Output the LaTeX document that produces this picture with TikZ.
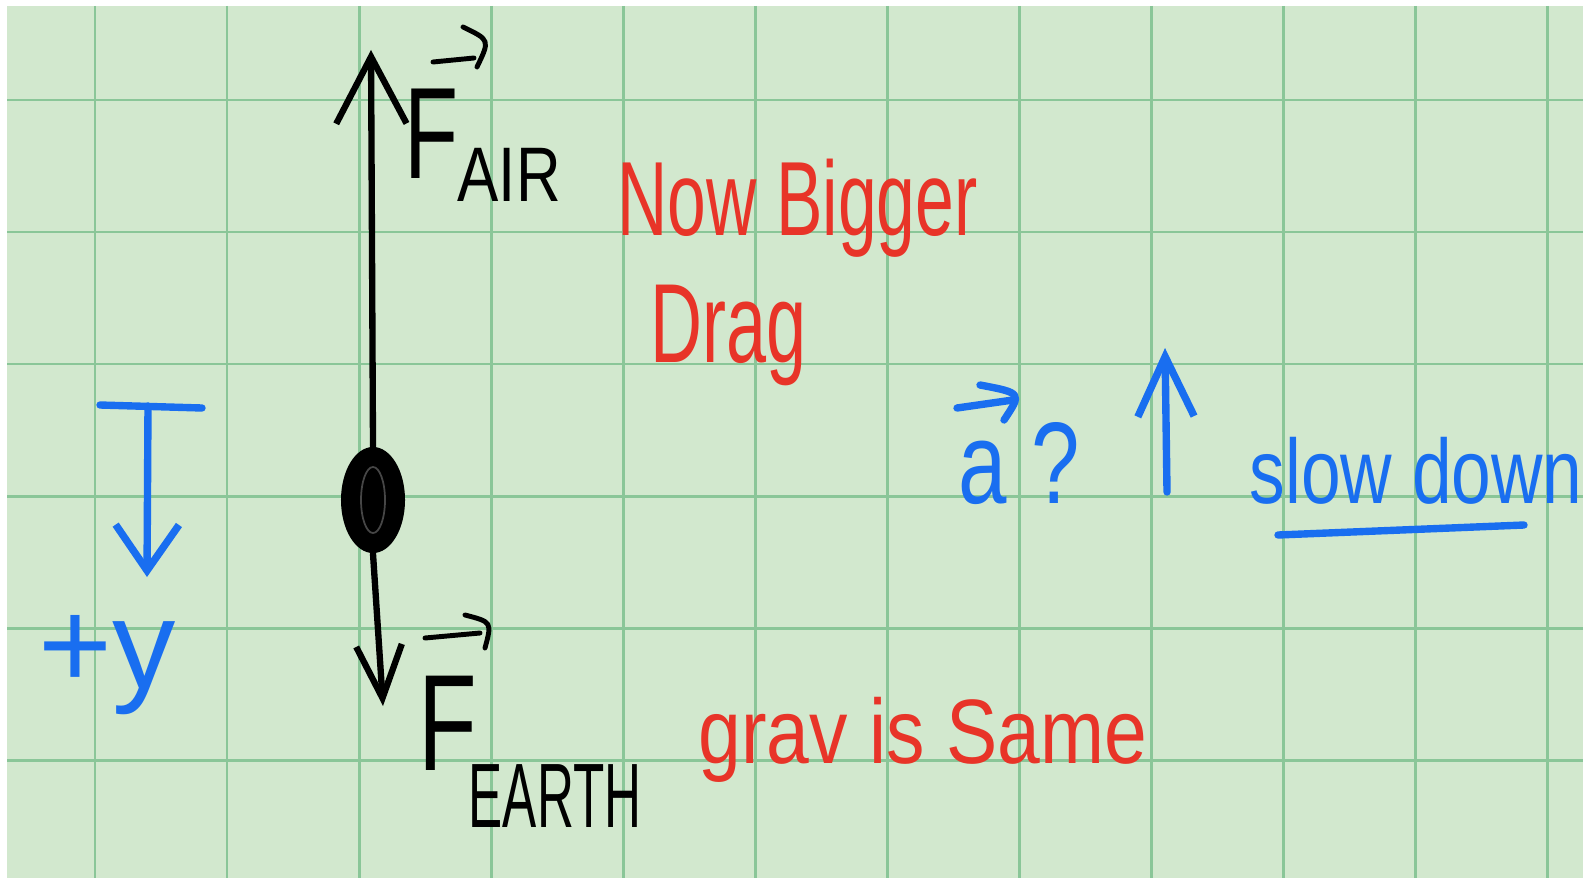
\documentclass[tikz,border=0pt]{standalone}
\usepackage{fontspec}
\setmainfont{Liberation Sans}
\usepackage{graphicx}
\usetikzlibrary{shapes.geometric, arrows.meta, calc}

\definecolor{paper}{RGB}{210,232,206}
\definecolor{gridgreen}{RGB}{138,198,152}
\definecolor{inkred}{RGB}{232,52,40}
\definecolor{inkblue}{RGB}{25,110,240}

\newcommand{\handfont}[1]{\fontsize{#1pt}{#1pt}\selectfont}
\newcommand{\narrow}[2]{\scalebox{#1}[1]{#2}}

\begin{document}
\begin{tikzpicture}[
    x=0.01cm, y=-0.01cm,
    gridline/.style={draw=gridgreen, line width=0.85pt},
    blackstroke/.style={draw=black, line width=1.8pt, line cap=round, line join=round},
    bluestroke/.style={draw=inkblue, line width=2.1pt, line cap=round, line join=round},
    vecmark/.style={draw=black, line width=1.4pt, line cap=round},
    hand/.style={inner sep=0pt, anchor=base west},
    blacktext/.style={hand, text=black},
    redtext/.style={hand, text=inkred},
    bluetext/.style={hand, text=inkblue},
    ball/.style={ellipse, fill=black, minimum width=0.64cm,
                 minimum height=1.06cm, inner sep=0pt},
]
    % Paper
    \useasboundingbox (0,0) rectangle (1583,882);
    \fill[white] (0,0) rectangle (1583,882);
    \fill[paper] (7,6) rectangle (1583,878);
    \foreach \gx in {0,...,11}
        \draw[gridline] ({95+132*\gx},6) -- ({95+132*\gx},878);
    \foreach \gy in {0,...,5}
        \draw[gridline] (7,{100+132*\gy}) -- (1583,{100+132*\gy});

    % Object
    \node[ball] (ball) at (373,500) {};
    \draw[gray!55!black, line width=0.5pt] (ball.center) ellipse [x radius=12, y radius=33];

    % Forces
    \coordinate (airtip) at (371,50);
    \coordinate (earthtip) at (383,706);
    \draw[blackstroke, -{Straight Barb[length=19pt, width=20pt]}] (ball.north) -- (airtip);
    \draw[blackstroke, -{Straight Barb[length=15pt, width=13pt]}] (ball.south) -- (earthtip);

    % Labels
    \node[blacktext, font=\handfont{37}] (fair) at (404,178) {\narrow{0.68}{F}};
    \node[blacktext, font=\handfont{22}] (airsub) at (457,202) {\narrow{0.8}{AIR}};
    \draw[vecmark] (433,62) -- (474,58);
    \draw[vecmark] (463,27) .. controls (490,40) .. (477,67);

    \node[blacktext, font=\handfont{39}] (fearth) at (418,770) {\narrow{0.7}{F}};
    \node[blacktext, font=\handfont{26}] (earthsub) at (468,827) {\narrow{0.56}{EARTH}};
    \draw[vecmark] (425,638) -- (480,633);
    \draw[vecmark] (465,615) .. controls (492,622) .. (485,648);

    % Notes
    \node[redtext, font=\handfont{30}] (bigger) at (617,235) {\narrow{0.66}{Now Bigger}};
    \node[redtext, font=\handfont{32}] (drag) at (650,362) {\narrow{0.64}{Drag}};
    \node[redtext, font=\handfont{26}] (gravsame) at (698,763) {\narrow{0.84}{grav is Same}};

    % Positive direction
    \coordinate (ybarl) at (100,405);
    \coordinate (ybarr) at (202,408);
    \coordinate (ybartop) at (148,406);
    \coordinate (ytip) at (147,577);
    \draw[bluestroke] (ybarl) -- (ybarr);
    \draw[bluestroke, -{Straight Barb[length=13pt, width=18pt]}] (ybartop) -- (ytip);
    \node[bluetext, font=\handfont{36}] (plusy) at (38,688) {+y};

    % Acceleration
    \node[bluetext, font=\handfont{33}] (accel) at (958,503) {\narrow{0.75}{a ?}};
    \draw[bluestroke] (957,408) -- (1013,400);
    \draw[bluestroke] (980,385) .. controls (1022,393) .. (1004,420);
    \coordinate (accbase) at (1167,492);
    \coordinate (acctip) at (1165,348);
    \draw[bluestroke, -{Straight Barb[length=17pt, width=16pt]}] (accbase) -- (acctip);

    \node[bluetext, font=\handfont{26}] (slow) at (1249,503) {\narrow{0.78}{slow down}};
    \coordinate (ulstart) at ($(slow.base west)+(29,32)$);
    \coordinate (ulend) at ($(slow.base west)+(275,22)$);
    \draw[bluestroke] (ulstart) -- (ulend);
\end{tikzpicture}
\end{document}
